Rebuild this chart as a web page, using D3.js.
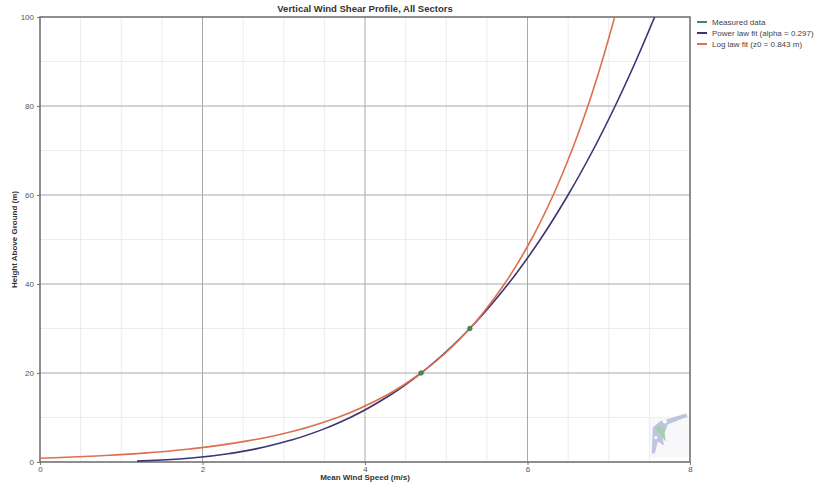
<!DOCTYPE html>
<html>
<head>
<meta charset="utf-8">
<script src="https://cdn.jsdelivr.net/npm/d3@7"></script>
<style>
  body { margin: 0; background: #fff; }
  text { font-family: "Liberation Sans", Arial, sans-serif; }
</style>
</head>
<body>
<div id="chart"></div>
<script>
// Measured points (speed m/s, height m)
const measuredSpeed = [4.69, 5.29];
const measuredHeight = [20, 30];

// Power law fit curve
const powerHeight = [0.2, 0.5, 1, 2, 3, 5, 7.5, 10, 15, 20, 25, 30, 40, 50, 60, 70, 80, 90, 100];
const powerSpeed = [1.194, 1.568, 1.927, 2.367, 2.670, 3.107, 3.505, 3.818, 4.306, 4.690, 5.011, 5.290, 5.762, 6.157, 6.499, 6.804, 7.079, 7.331, 7.565];

// Log law fit curve
const logHeight = [0.843, 1, 1.5, 2, 3, 5, 7.5, 10, 15, 20, 25, 30, 40, 50, 60, 70, 80, 90, 100];
const logSpeed = [0, 0.253, 0.853, 1.280, 1.880, 2.636, 3.237, 3.663, 4.264, 4.690, 5.020, 5.290, 5.716, 6.047, 6.317, 6.545, 6.743, 6.917, 7.073];

const xTicks = [0, 2, 4, 6, 8];
const yTicks = [0, 20, 40, 60, 80, 100];
const xMinor = [0.5, 1, 1.5, 2.5, 3, 3.5, 4.5, 5, 5.5, 6.5, 7, 7.5];
const yMinor = [10, 30, 50, 70, 90];

const legendLabels = ['Measured data', 'Power law fit (alpha = 0.297)', 'Log law fit (z0 = 0.843 m)'];
const legendColors = ['#3f8f55', '#3b3574', '#dd6f4d'];

const width = 825, height = 484;
const margin = { left: 40, right: 135, top: 17, bottom: 22 };

const svg = d3.select('#chart')
    .append('svg')
    .attr('width', width)
    .attr('height', height);

const x = d3.scaleLinear().domain([0, 8]).range([margin.left, width - margin.right]);
const y = d3.scaleLinear().domain([0, 100]).range([height - margin.bottom, margin.top]);

// Minor grid
svg.append('g')
    .selectAll('line')
    .data(xMinor)
    .enter()
    .append('line')
    .attr('x1', d => x(d)).attr('x2', d => x(d))
    .attr('y1', y(0)).attr('y2', y(100))
    .style('stroke', '#ececec');

svg.append('g')
    .selectAll('line')
    .data(yMinor)
    .enter()
    .append('line')
    .attr('x1', x(0)).attr('x2', x(8))
    .attr('y1', d => y(d)).attr('y2', d => y(d))
    .style('stroke', '#ececec');

// Major grid
svg.append('g')
    .selectAll('line')
    .data(xTicks.slice(1, -1))
    .enter()
    .append('line')
    .attr('x1', d => x(d)).attr('x2', d => x(d))
    .attr('y1', y(0)).attr('y2', y(100))
    .style('stroke', '#a8a8a8');

svg.append('g')
    .selectAll('line')
    .data(yTicks.slice(1, -1))
    .enter()
    .append('line')
    .attr('x1', x(0)).attr('x2', x(8))
    .attr('y1', d => y(d)).attr('y2', d => y(d))
    .style('stroke', '#a8a8a8');

// Watermark logo (faint)
const logo = svg.append('g')
    .attr('transform', `translate(${x(7.53)},${y(1)})`)
    .style('opacity', 0.75);
logo.append('rect')
    .attr('x', -2).attr('y', -40).attr('width', 40).attr('height', 40)
    .style('fill', '#f6f6fa');
logo.append('path')
    .attr('d', 'M0,-4 L1,-30 L8,-36 L34,-44 L36,-41 L16,-33 L11,-20 L12,-12 L6,-16 L3,-4 Z')
    .style('fill', '#aab2d6');
logo.append('path')
    .attr('d', 'M4,-28 L14,-16 L12,-30 L6,-32 Z')
    .style('fill', '#85c092');
logo.append('circle').attr('cx', 13).attr('cy', -36).attr('r', 2).style('fill', '#fff');
logo.append('circle').attr('cx', 4).attr('cy', -20).attr('r', 1.6).style('fill', '#fff');
</script>
<script>
// Axes
const xAxis = svg.append('g')
    .attr('transform', `translate(0,${y(0)})`)
    .call(d3.axisBottom(x).tickValues(xTicks).tickSize(3).tickFormat(d3.format('d')));
const yAxis = svg.append('g')
    .attr('transform', `translate(${x(0)},0)`)
    .call(d3.axisLeft(y).tickValues(yTicks).tickSize(3).tickFormat(d3.format('d')));

[xAxis, yAxis].forEach(a => {
    a.select('.domain').remove();
    a.selectAll('line').style('stroke', '#777');
    a.selectAll('text').style('font-size', '8px').style('fill', '#555');
});
xAxis.selectAll('text').attr('dy', '0.5em');

// Frame
svg.append('rect')
    .attr('x', x(0)).attr('y', y(100))
    .attr('width', x(8) - x(0)).attr('height', y(0) - y(100))
    .style('fill', 'none')
    .style('stroke', '#6a6a6a')
    .style('stroke-width', 1.5);

// Curves
const line = d3.line()
    .x(d => x(d[0]))
    .y(d => y(d[1]))
    .curve(d3.curveMonotoneY);

svg.append('clipPath').attr('id', 'plot-clip')
    .append('rect')
    .attr('x', x(0)).attr('y', y(100))
    .attr('width', x(8) - x(0)).attr('height', y(0) - y(100));

svg.append('path')
    .datum(powerSpeed.map((s, i) => [s, powerHeight[i]]))
    .attr('d', line)
    .attr('clip-path', 'url(#plot-clip)')
    .style('fill', 'none')
    .style('stroke', legendColors[1])
    .style('stroke-width', 1.6);

svg.append('path')
    .datum(logSpeed.map((s, i) => [s, logHeight[i]]))
    .attr('d', line)
    .attr('clip-path', 'url(#plot-clip)')
    .style('fill', 'none')
    .style('stroke', legendColors[2])
    .style('stroke-width', 1.6);

// Measured points
svg.append('g')
    .selectAll('circle')
    .data(measuredSpeed.map((s, i) => [s, measuredHeight[i]]))
    .enter()
    .append('circle')
    .attr('cx', d => x(d[0]))
    .attr('cy', d => y(d[1]))
    .attr('r', 2.3)
    .style('fill', legendColors[0])
    .style('stroke', '#2f5f3a')
    .style('stroke-width', 0.6);

// Title
svg.append('text')
    .attr('x', (x(0) + x(8)) / 2)
    .attr('y', 12)
    .attr('text-anchor', 'middle')
    .style('font-size', '9.5px')
    .style('font-weight', 'bold')
    .style('fill', '#333')
    .text('Vertical Wind Shear Profile, All Sectors');

// Axis titles
svg.append('text')
    .attr('x', (x(0) + x(8)) / 2)
    .attr('y', 480)
    .attr('text-anchor', 'middle')
    .style('font-size', '8px')
    .style('font-weight', 'bold')
    .style('fill', '#333')
    .text('Mean Wind Speed (m/s)');

svg.append('text')
    .attr('transform', `translate(17,${(y(0) + y(100)) / 2}) rotate(-90)`)
    .attr('text-anchor', 'middle')
    .style('font-size', '8px')
    .style('font-weight', 'bold')
    .style('fill', '#333')
    .text('Height Above Ground (m)');

// Legend
const legend = svg.append('g')
    .selectAll('g')
    .data(legendLabels)
    .enter()
    .append('g')
    .attr('transform', (d, i) => `translate(697,${22 + i * 11})`);

legend.append('line')
    .attr('x1', 0).attr('x2', 10)
    .style('stroke', (d, i) => legendColors[i])
    .style('stroke-width', 2);

legend.append('text')
    .attr('x', 15)
    .attr('dy', '0.33em')
    .style('font-size', '8px')
    .style('fill', '#444')
    .text(d => d);
</script>
</body>
</html>
